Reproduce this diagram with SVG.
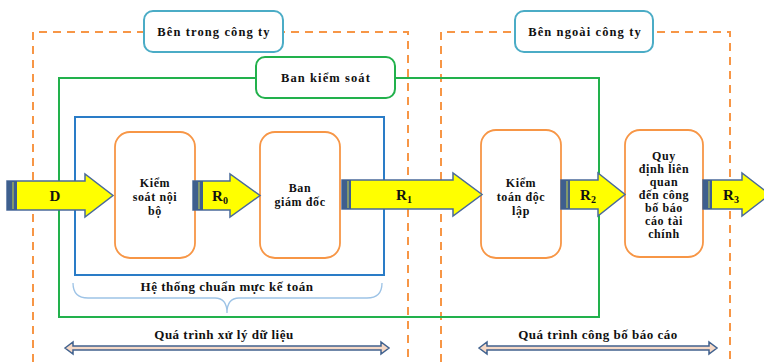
<svg xmlns="http://www.w3.org/2000/svg" width="764" height="362" viewBox="0 0 764 362">
<defs>
<style>
.dash{fill:none;stroke:#f79646;stroke-width:2;stroke-dasharray:8,6}
.lbl{fill:#fff;stroke:#4bacc6;stroke-width:2}
.node{fill:#fff;stroke:#f79646;stroke-width:1.8}
.t{font-family:'Liberation Serif','Times New Roman',serif;font-weight:bold;fill:#111;text-anchor:middle}
.hd{font-size:12.5px;letter-spacing:1.1px}
.sn{font-size:12px;letter-spacing:0.6px}
.ft{font-size:13px;letter-spacing:0.5px}
.big{font-size:15px}
.arr{fill:#ffff00;stroke:#4a6a9a;stroke-width:1.5;stroke-linejoin:miter}
.tail{fill:#3e5f8e}
.tl{stroke:#c8d44a;stroke-width:1}
.dbl{fill:#f6d9c6;stroke:#41628f;stroke-width:1.5;stroke-linejoin:miter}
</style>
</defs>
<rect width="764" height="362" fill="#fff"/>
<g id="regions">
<path class="dash" d="M33,362 V32 H408 V362"/>
<path class="dash" d="M441,362 V32 H730 V362"/>
<rect id="ban-kiem-soat-frame" x="59" y="78" width="540" height="239" fill="none" stroke="#22b14c" stroke-width="2"/>
<rect id="he-thong-frame" x="75" y="117" width="309" height="158" fill="none" stroke="#2a7cc7" stroke-width="2"/>
</g>
<g id="ben-trong">
<rect class="lbl" x="144" y="11" width="139" height="41" rx="9"/>
<text class="t hd" x="214" y="36">Bên trong công ty</text>
</g>
<g id="ben-ngoai">
<rect class="lbl" x="515" y="11" width="138" height="41" rx="9"/>
<text class="t hd" x="585" y="36">Bên ngoài công ty</text>
</g>
<g id="ban-kiem-soat">
<rect x="256" y="57" width="139" height="41" rx="9" fill="#fff" stroke="#22b14c" stroke-width="2"/>
<text class="t hd" x="326" y="82">Ban kiểm soát</text>
</g>
<g id="kiem-soat-noi-bo">
<rect class="node" x="115" y="132" width="80" height="126" rx="15"/>
<text class="t sn" x="155" y="187">Kiểm</text>
<text class="t sn" x="155" y="201">soát nội</text>
<text class="t sn" x="155" y="215">bộ</text>
</g>
<g id="ban-giam-doc">
<rect class="node" x="260" y="132" width="80" height="126" rx="15"/>
<text class="t sn" x="300" y="192">Ban</text>
<text class="t sn" x="300" y="206">giám đốc</text>
</g>
<g id="kiem-toan-doc-lap">
<rect class="node" x="481" y="130" width="80" height="128" rx="15"/>
<text class="t sn" x="521" y="187">Kiểm</text>
<text class="t sn" x="521" y="201">toán độc</text>
<text class="t sn" x="521" y="215">lập</text>
</g>
<g id="quy-dinh">
<rect class="node" x="625" y="130" width="78" height="127" rx="15"/>
<text class="t sn" x="664" y="160">Quy</text>
<text class="t sn" x="664" y="173">định liên</text>
<text class="t sn" x="664" y="186">quan</text>
<text class="t sn" x="664" y="199">đến công</text>
<text class="t sn" x="664" y="212">bố báo</text>
<text class="t sn" x="664" y="225">cáo tài</text>
<text class="t sn" x="664" y="238">chính</text>
</g>
<g id="connectors">
<g id="arrow-D">
<polygon class="arr" points="7,181 85,181 85,174 113,195.5 85,217 85,210 7,210"/>
<rect class="tail" x="7" y="181" width="10" height="29"/>
<line class="tl" x1="13" y1="182" x2="13" y2="209"/>
<text class="t big" x="55" y="201">D</text>
</g>
<g id="arrow-R0">
<polygon class="arr" points="193,181 230,181 230,174 260,195.5 230,217 230,210 193,210"/>
<rect class="tail" x="193" y="181" width="10" height="29"/>
<line class="tl" x1="199" y1="182" x2="199" y2="209"/>
<text class="t big" x="220" y="201">R<tspan font-size="10" dy="3">0</tspan></text>
</g>
<g id="arrow-R1">
<polygon class="arr" points="342,180 453,180 453,173 482,194.5 453,216 453,209 342,209"/>
<rect class="tail" x="342" y="180" width="9" height="29"/>
<line class="tl" x1="348" y1="181" x2="348" y2="208"/>
<text class="t big" x="404" y="200">R<tspan font-size="10" dy="3">1</tspan></text>
</g>
<g id="arrow-R2">
<polygon class="arr" points="561,180 598,180 598,173 625,194.5 598,216 598,209 561,209"/>
<rect class="tail" x="561" y="180" width="9" height="29"/>
<line class="tl" x1="567" y1="181" x2="567" y2="208"/>
<text class="t big" x="588" y="200">R<tspan font-size="10" dy="3">2</tspan></text>
</g>
<g id="arrow-R3">
<polygon class="arr" points="703,180 742,180 742,173 770,194.5 742,216 742,209 703,209"/>
<rect class="tail" x="703" y="180" width="9" height="29"/>
<line class="tl" x1="709" y1="181" x2="709" y2="208"/>
<text class="t big" x="731" y="200">R<tspan font-size="10" dy="3">3</tspan></text>
</g>
</g>
<g id="he-thong-chuan-muc">
<path d="M73,283 Q73,298 88,298 L215,298 Q227,298 227,313 Q227,298 239,298 L367,298 Q382,298 382,283" fill="none" stroke="#9dc3e6" stroke-width="1.3"/>
<text class="t ft" x="227" y="291">Hệ thống chuẩn mực kế toán</text>
</g>
<g id="qua-trinh-xu-ly">
<text class="t ft" x="224" y="339">Quá trình xử lý dữ liệu</text>
<polygon class="dbl" points="65,348 73,342 73,346 381,346 381,342 389,348 381,354 381,350 73,350 73,354"/>
</g>
<g id="qua-trinh-cong-bo">
<text class="t ft" x="598" y="339">Quá trình công bố báo cáo</text>
<polygon class="dbl" points="479,348 487,342 487,346 709,346 709,342 717,348 709,354 709,350 487,350 487,354"/>
</g>
</svg>
